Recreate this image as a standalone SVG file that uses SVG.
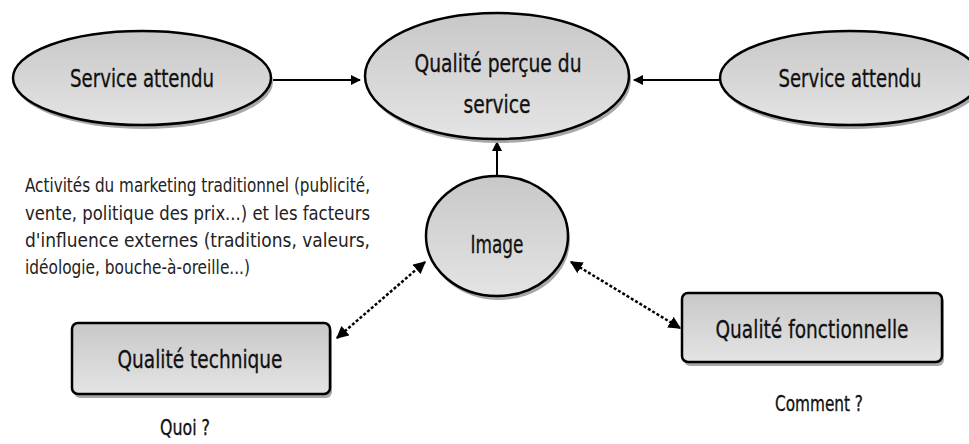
<svg xmlns="http://www.w3.org/2000/svg" width="969" height="444" viewBox="0 0 969 444">
<style>
.node{fill:url(#g);stroke:#000;stroke-width:2.5}
.sh{fill:#a8a8a8}
.t{font-family:"DejaVu Sans Condensed","Liberation Sans",Arial,sans-serif;font-size:25px;fill:#111;text-anchor:middle;stroke:#111;stroke-width:0.3}
.p{font-family:"DejaVu Sans Condensed","Liberation Sans",Arial,sans-serif;font-size:19px;fill:#222}
.c{stroke:#000;stroke-width:2;fill:none}
.d{stroke:#000;stroke-width:2.5;fill:none;stroke-dasharray:3 2}
</style>
<defs>
<linearGradient id="g" x1="0" y1="0" x2="0" y2="1">
<stop offset="0" stop-color="#c8c8c8"/>
<stop offset="0.5" stop-color="#d6d6d6"/>
<stop offset="1" stop-color="#e4e4e4"/>
</linearGradient>
<marker id="a" viewBox="0 0 10 10" refX="9" refY="5" markerWidth="5" markerHeight="5" orient="auto-start-reverse">
<path d="M0,0 L10,5 L0,10 z" fill="#000"/>
</marker>
</defs>
<g id="connectors">
<line class="c" x1="273" y1="80" x2="360" y2="80" marker-end="url(#a)"/>
<line class="c" x1="720" y1="80" x2="634" y2="80" marker-end="url(#a)"/>
<line class="c" x1="497" y1="176" x2="497" y2="142" marker-end="url(#a)"/>
<line class="d" x1="337" y1="338" x2="425" y2="262" marker-start="url(#a)" marker-end="url(#a)"/>
<line class="d" x1="571" y1="262" x2="680" y2="328" marker-start="url(#a)" marker-end="url(#a)"/>
</g>
<g id="service-attendu-left">
<ellipse class="sh" cx="144" cy="82" rx="129" ry="47"/>
<ellipse class="node" cx="142" cy="78" rx="129" ry="47"/>
<text class="t" x="142" y="87" textLength="144" lengthAdjust="spacingAndGlyphs">Service attendu</text>
</g>
<g id="qualite-percue">
<ellipse class="sh" cx="499" cy="80" rx="132" ry="63"/>
<ellipse class="node" cx="497" cy="76" rx="132" ry="63"/>
<text class="t" x="498" y="72" textLength="167" lengthAdjust="spacingAndGlyphs">Qualité perçue du</text>
<text class="t" x="497" y="113" textLength="67" lengthAdjust="spacingAndGlyphs">service</text>
</g>
<g id="service-attendu-right">
<ellipse class="sh" cx="852" cy="82" rx="130" ry="47"/>
<ellipse class="node" cx="850" cy="78" rx="130" ry="47"/>
<text class="t" x="850" y="87" textLength="143" lengthAdjust="spacingAndGlyphs">Service attendu</text>
</g>
<g id="image">
<ellipse class="sh" cx="499" cy="240" rx="71" ry="60"/>
<ellipse class="node" cx="497" cy="236" rx="71" ry="60"/>
<text class="t" x="497" y="253" textLength="53" lengthAdjust="spacingAndGlyphs">Image</text>
</g>
<g id="qualite-technique">
<rect class="sh" x="74" y="326" width="258" height="72" rx="6"/>
<rect class="node" x="72" y="323" width="258" height="71" rx="6"/>
<text class="t" x="200" y="368" textLength="165" lengthAdjust="spacingAndGlyphs">Qualité technique</text>
</g>
<g id="qualite-fonctionnelle">
<rect class="sh" x="684" y="296" width="260" height="70" rx="6"/>
<rect class="node" x="682" y="293" width="260" height="69" rx="6"/>
<text class="t" x="812" y="338" textLength="193" lengthAdjust="spacingAndGlyphs">Qualité fonctionnelle</text>
</g>
<g id="labels">
<text class="p" x="25" y="192" textLength="345" lengthAdjust="spacingAndGlyphs">Activités du marketing traditionnel (publicité,</text>
<text class="p" x="25" y="220" textLength="345" lengthAdjust="spacingAndGlyphs">vente, politique des prix...) et les facteurs</text>
<text class="p" x="25" y="247" textLength="345" lengthAdjust="spacingAndGlyphs">d'influence externes (traditions, valeurs,</text>
<text class="p" x="25" y="274" textLength="225" lengthAdjust="spacingAndGlyphs">idéologie, bouche-à-oreille...)</text>
<text class="t" x="819" y="411" style="font-size:21px" textLength="88" lengthAdjust="spacingAndGlyphs">Comment ?</text>
<text class="t" x="185" y="435" style="font-size:21px" textLength="50" lengthAdjust="spacingAndGlyphs">Quoi ?</text>
</g>
</svg>
